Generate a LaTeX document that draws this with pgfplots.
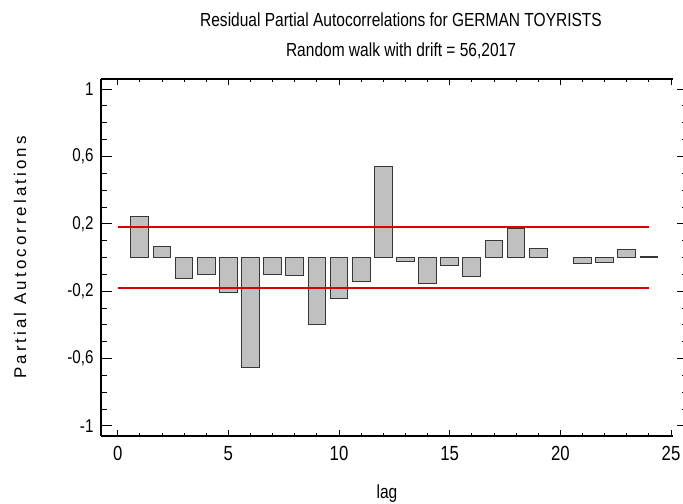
\documentclass[border=0pt]{standalone}
\usepackage{fontspec}
\setmainfont{Liberation Sans}[FakeStretch=0.82]
\newfontfamily\widefont{Liberation Sans}[LetterSpace=18]
\usepackage{pgfplots}
\pgfplotsset{compat=1.18}
\definecolor{barfill}{RGB}{192,192,192}
\definecolor{baredge}{RGB}{55,55,55}
\definecolor{limred}{rgb}{0.85,0.0,0.0}
\begin{document}
\begin{tikzpicture}[x=1bp,y=1bp]
\path[use as bounding box] (-101,-68) rectangle (582,436);
% x-tick axis (ticks only)
\begin{axis}[
  at={(0,0)}, anchor=south west, scale only axis,
  width=572bp, height=357bp,
  xmin=-0.755, xmax=25.09, ymin=-1.06, ymax=1.06,
  axis line style={draw=none},
  xtick={0,5,10,15,20,25}, minor x tick num=4,
  ytick=\empty,
  tick align=inside, xtick pos=both,
  major tick length=6bp, minor tick length=3.3bp,
  tick style={black, line width=0.9bp},
  /pgf/number format/assume math mode=true,
  xticklabel style={font=\fontsize{20.5}{20.5}\selectfont, yshift=-7bp},
  xlabel={lag},
  xlabel style={font=\fontsize{19}{19}\selectfont, at={(axis description cs:0.5,-0.16)}, anchor=center},
]
\end{axis}
% right ticks
\begin{axis}[
  at={(0,0)}, anchor=south west, scale only axis,
  width=582bp, height=357bp,
  xmin=0, xmax=1, ymin=-1.06, ymax=1.06,
  axis line style={draw=none},
  xtick=\empty,
  ytick={-1,-0.6,-0.2,0.2,0.6,1}, minor y tick num=3,
  yticklabels={},
  tick align=inside, ytick pos=right,
  major tick length=6bp, minor tick length=1.5bp,
  tick style={black, line width=0.9bp},
]
\end{axis}
% main axis
\begin{axis}[
  at={(0,0)}, anchor=south west, scale only axis,
  width=572bp, height=357bp,
  xmin=-0.755, xmax=25.09, ymin=-1.06, ymax=1.06,
  axis x line*=box, axis y line*=left,
  axis line style={black, line width=1.2bp},
  xtick=\empty,
  ytick={-1,-0.6,-0.2,0.2,0.6,1}, minor y tick num=3,
  yticklabels={-1,{-0,6},{-0,2},{0,2},{0,6},1},
  tick align=inside, ytick pos=left,
  major tick length=11bp, minor tick length=6bp,
  tick style={black, line width=0.9bp},
  yticklabel style={font=\fontsize{18.6}{18.6}\selectfont, anchor=east, xshift=-4bp},
  ylabel={Partial Autocorrelations},
  ylabel style={font=\widefont\fontsize{17}{17}\selectfont, at={(axis description cs:-0.1416,0.5)}, anchor=center},
  clip=false,
]
\addplot[ybar, bar width=0.8, fill=barfill, draw=baredge, line width=1bp] coordinates {
  (1,0.245) (2,0.067) (3,-0.125) (4,-0.099) (5,-0.208) (6,-0.653)
  (7,-0.099) (8,-0.107) (9,-0.40) (10,-0.244) (11,-0.143) (12,0.543)
  (13,-0.024) (14,-0.154) (15,-0.048) (16,-0.115) (17,0.103) (18,0.174)
  (19,0.055) (21,-0.036) (22,-0.030) (23,0.050) (24,0.004)
};
\addplot[color=limred, solid, line width=1.8bp, mark=none] coordinates {(0,0.179) (24,0.179)};
\addplot[color=limred, solid, line width=1.8bp, mark=none] coordinates {(0,-0.180) (24,-0.180)};
\end{axis}
\node[font=\fontsize{19}{19}\selectfont] at (300,416) {Residual Partial Autocorrelations for GERMAN TOYRISTS};
\node[font=\fontsize{19}{19}\selectfont] at (300,385) {Random walk with drift = 56,2017};
\end{tikzpicture}
\end{document}
